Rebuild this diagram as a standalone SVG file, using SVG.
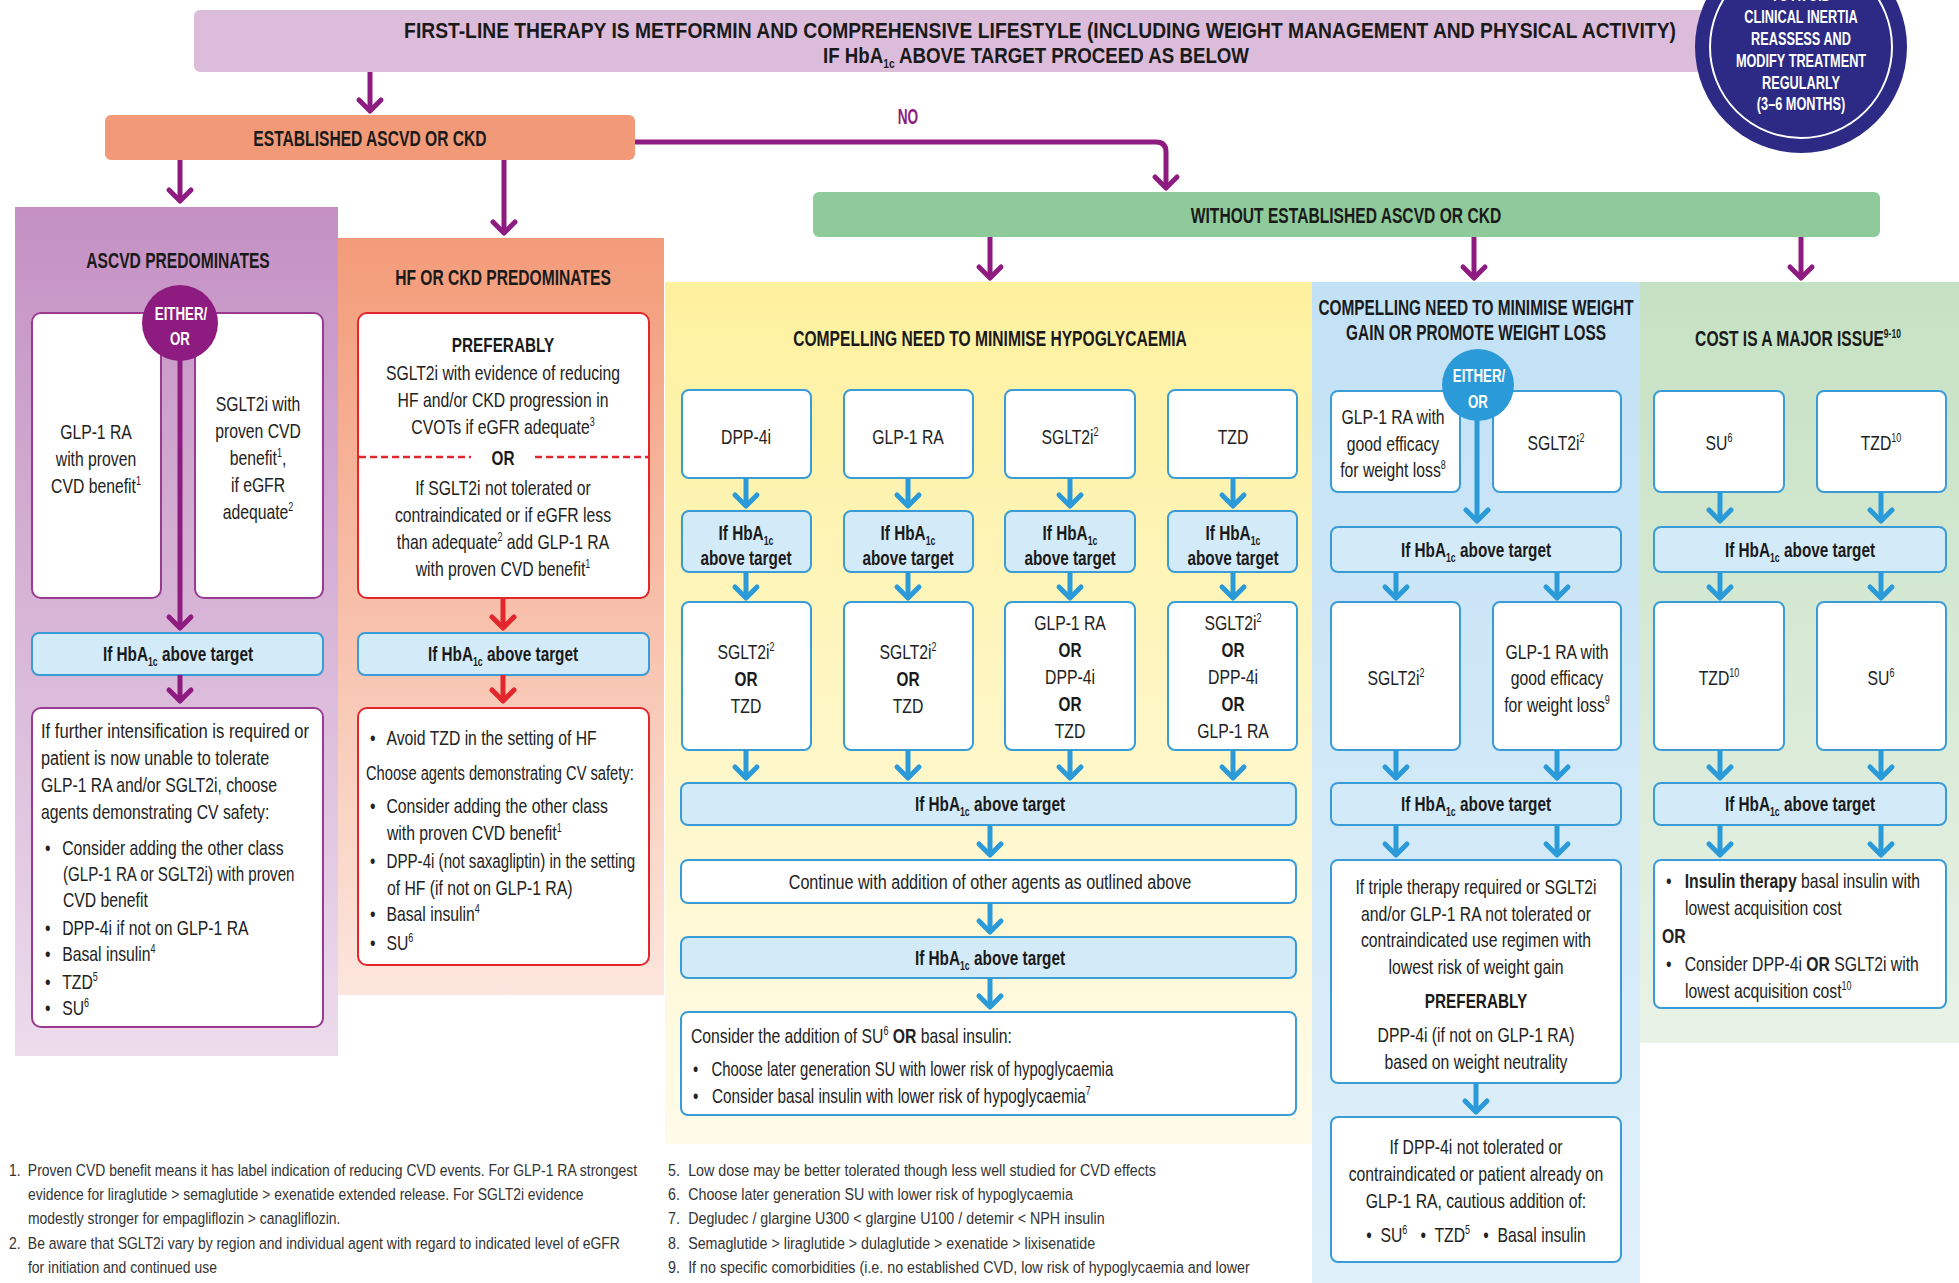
<svg xmlns="http://www.w3.org/2000/svg" width="1959" height="1283" viewBox="0 0 1959 1283">
<defs>
<linearGradient id="gAs" x1="0" y1="0" x2="0" y2="1"><stop offset="0" stop-color="#c490c3"/><stop offset="1" stop-color="#ecdcec"/></linearGradient>
<linearGradient id="gHf" x1="0" y1="0" x2="0" y2="1"><stop offset="0" stop-color="#f39b79"/><stop offset="1" stop-color="#fce6dd"/></linearGradient>
<linearGradient id="gYe" x1="0" y1="0" x2="0" y2="1"><stop offset="0" stop-color="#fdf19e"/><stop offset="1" stop-color="#fffbea"/></linearGradient>
<linearGradient id="gBl" x1="0" y1="0" x2="0" y2="1"><stop offset="0" stop-color="#c2e1f5"/><stop offset="1" stop-color="#e0f0fa"/></linearGradient>
<linearGradient id="gGr" x1="0" y1="0" x2="0" y2="1"><stop offset="0" stop-color="#c5e1c3"/><stop offset="1" stop-color="#e9f2e6"/></linearGradient>
<marker id="ap" markerUnits="userSpaceOnUse" orient="auto" markerWidth="30" markerHeight="30" viewBox="-15 -15 30 30" refX="0" refY="0"><path d="M-11,-11 L0,0 L-11,11" fill="none" stroke="#8e1b80" stroke-width="5" stroke-linejoin="round" stroke-linecap="round"/></marker>
<marker id="ar" markerUnits="userSpaceOnUse" orient="auto" markerWidth="30" markerHeight="30" viewBox="-15 -15 30 30" refX="0" refY="0"><path d="M-11,-11 L0,0 L-11,11" fill="none" stroke="#e2262c" stroke-width="5" stroke-linejoin="round" stroke-linecap="round"/></marker>
<marker id="ab" markerUnits="userSpaceOnUse" orient="auto" markerWidth="30" markerHeight="30" viewBox="-15 -15 30 30" refX="0" refY="0"><path d="M-11,-11 L0,0 L-11,11" fill="none" stroke="#2b9ad8" stroke-width="5" stroke-linejoin="round" stroke-linecap="round"/></marker>
</defs>
<style>
.h{font:bold 22px "Liberation Sans",Arial,sans-serif;text-anchor:middle;fill:#1a1a1a}
.m{font:21px "Liberation Sans",Arial,sans-serif;text-anchor:middle;fill:#222}
.mb{font:bold 21px "Liberation Sans",Arial,sans-serif;text-anchor:middle;fill:#1a1a1a}
.l{font:21px "Liberation Sans",Arial,sans-serif;fill:#222}
.fn{font:17px "Liberation Sans",Arial,sans-serif;fill:#333}
.wt{font:bold 19px "Liberation Sans",Arial,sans-serif;text-anchor:middle;fill:#fff}
.sup{font-size:12px;baseline-shift:8px}
.sub{font-size:12px;baseline-shift:-5px}
.b{font-weight:bold}
.wp{fill:#fff;stroke:#9b3a91;stroke-width:2}
.wr{fill:#fff;stroke:#e2262c;stroke-width:2}
.wb{fill:#fff;stroke:#3a9cd7;stroke-width:2}
.ifb{fill:#d3eaf9;stroke:#3a9cd7;stroke-width:2}
.cp{fill:none;stroke:#8e1b80;stroke-width:5;marker-end:url(#ap)}
.cr{fill:none;stroke:#e2262c;stroke-width:5;marker-end:url(#ar)}
.cb{fill:none;stroke:#2b9ad8;stroke-width:5;marker-end:url(#ab)}
</style>
<rect x="0" y="0" width="1959" height="1283" fill="#fff"/>

<!-- panels -->
<g id="panel-ascvd"><rect x="15" y="207" width="323" height="849" fill="url(#gAs)"/>
<text class="h" transform="translate(178,268) scale(.71,1)">ASCVD PREDOMINATES</text></g>
<g id="panel-hf"><rect x="338" y="238" width="326" height="757" fill="url(#gHf)"/>
<text class="h" transform="translate(503,285) scale(.71,1)">HF OR CKD PREDOMINATES</text></g>
<g id="panel-hypo"><rect x="665" y="282" width="647" height="862" fill="url(#gYe)"/>
<text class="h" transform="translate(990,346) scale(.71,1)">COMPELLING NEED TO MINIMISE HYPOGLYCAEMIA</text></g>
<g id="panel-weight"><rect x="1312" y="282" width="328" height="1001" fill="url(#gBl)"/>
<text class="h" transform="translate(1476,315) scale(.70,1)">COMPELLING NEED TO MINIMISE WEIGHT</text>
<text class="h" transform="translate(1476,340) scale(.70,1)">GAIN OR PROMOTE WEIGHT LOSS</text></g>
<g id="panel-cost"><rect x="1640" y="282" width="319" height="761" fill="url(#gGr)"/>
<text class="h" transform="translate(1798,346) scale(.71,1)">COST IS A MAJOR ISSUE<tspan class="sup">9-10</tspan></text></g>

<!-- top -->
<g id="first-line"><rect x="194" y="10" width="1530" height="62" rx="6" fill="#dcbcdb"/>
<text class="h" font-size="26" transform="translate(1040,38) scale(.876,1)">FIRST-LINE THERAPY IS METFORMIN AND COMPREHENSIVE LIFESTYLE (INCLUDING WEIGHT MANAGEMENT AND PHYSICAL ACTIVITY)</text>
<text class="h" font-size="26" transform="translate(1036,63) scale(.85,1)">IF HbA<tspan class="sub" font-size="13">1c</tspan> ABOVE TARGET PROCEED AS BELOW</text></g>
<g id="inertia"><circle cx="1801" cy="47" r="106" fill="#2c2a84"/><circle cx="1801" cy="47" r="91" fill="none" stroke="#fff" stroke-width="2"/>
<text class="wt" font-size="20" transform="translate(1801,1) scale(.67,1)">TO AVOID</text>
<text class="wt" font-size="20" transform="translate(1801,23) scale(.67,1)">CLINICAL INERTIA</text>
<text class="wt" font-size="20" transform="translate(1801,45) scale(.67,1)">REASSESS AND</text>
<text class="wt" font-size="20" transform="translate(1801,67) scale(.67,1)">MODIFY TREATMENT</text>
<text class="wt" font-size="20" transform="translate(1801,89) scale(.67,1)">REGULARLY</text>
<text class="wt" font-size="20" transform="translate(1801,110) scale(.67,1)">(3–6 MONTHS)</text></g>
<g id="established"><rect x="105" y="115" width="530" height="45" rx="6" fill="#f29a78"/>
<text class="h" font-size="23" transform="translate(370,146) scale(.71,1)">ESTABLISHED ASCVD OR CKD</text></g>
<g id="without"><rect x="813" y="192" width="1067" height="45" rx="6" fill="#8fca9a"/>
<text class="h" font-size="23" transform="translate(1346,223) scale(.71,1)">WITHOUT ESTABLISHED ASCVD OR CKD</text></g>

<!-- ASCVD nodes -->
<g id="ascvd-glp1"><rect class="wp" x="32" y="313" width="129" height="285" rx="9"/>
<text class="m" transform="translate(96,439) scale(.75,1)">GLP-1 RA</text>
<text class="m" transform="translate(96,466) scale(.75,1)">with proven</text>
<text class="m" transform="translate(96,493) scale(.75,1)">CVD benefit<tspan class="sup">1</tspan></text></g>
<g id="ascvd-sglt2"><rect class="wp" x="195" y="313" width="128" height="285" rx="9"/>
<text class="m" transform="translate(258,411) scale(.75,1)">SGLT2i with</text>
<text class="m" transform="translate(258,438) scale(.75,1)">proven CVD</text>
<text class="m" transform="translate(258,465) scale(.75,1)">benefit<tspan class="sup">1</tspan>,</text>
<text class="m" transform="translate(258,492) scale(.75,1)">if eGFR</text>
<text class="m" transform="translate(258,519) scale(.75,1)">adequate<tspan class="sup">2</tspan></text></g>
<g id="ascvd-either"><circle cx="180" cy="323" r="38" fill="#8e1b80"/>
<text class="wt" transform="translate(181,320) scale(.7,1)">EITHER/</text>
<text class="wt" transform="translate(180,345) scale(.7,1)">OR</text></g>
<g id="ascvd-if"><rect class="ifb" x="32" y="633" width="291" height="42" rx="7"/>
<text class="mb" transform="translate(178,661) scale(.73,1)">If HbA<tspan class="sub">1c</tspan> above target</text></g>
<g id="ascvd-next"><rect class="wp" x="32" y="708" width="291" height="319" rx="9"/>
<text class="l" transform="translate(41,738) scale(.79,1)">If further intensification is required or</text>
<text class="l" transform="translate(41,765) scale(.77,1)">patient is now unable to tolerate</text>
<text class="l" transform="translate(41,792) scale(.75,1)">GLP-1 RA and/or SGLT2i, choose</text>
<text class="l" transform="translate(41,819) scale(.75,1)">agents demonstrating CV safety:</text>
<text class="l" transform="translate(45,855) scale(.75,1)">•<tspan x="23">Consider adding the other class</tspan></text>
<text class="l" transform="translate(63,881) scale(.72,1)">(GLP-1 RA or SGLT2i) with proven</text>
<text class="l" transform="translate(63,907) scale(.75,1)">CVD benefit</text>
<text class="l" transform="translate(45,935) scale(.75,1)">•<tspan x="23">DPP-4i if not on GLP-1 RA</tspan></text>
<text class="l" transform="translate(45,961) scale(.75,1)">•<tspan x="23">Basal insulin<tspan class="sup">4</tspan></tspan></text>
<text class="l" transform="translate(45,989) scale(.75,1)">•<tspan x="23">TZD<tspan class="sup">5</tspan></tspan></text>
<text class="l" transform="translate(45,1015) scale(.75,1)">•<tspan x="23">SU<tspan class="sup">6</tspan></tspan></text></g>

<!-- HF nodes -->
<g id="hf-pref"><rect class="wr" x="358" y="313" width="291" height="285" rx="9"/>
<text class="mb" transform="translate(503,352) scale(.73,1)">PREFERABLY</text>
<text class="m" transform="translate(503,380) scale(.75,1)">SGLT2i with evidence of reducing</text>
<text class="m" transform="translate(503,407) scale(.75,1)">HF and/or CKD progression in</text>
<text class="m" transform="translate(503,434) scale(.75,1)">CVOTs if eGFR adequate<tspan class="sup">3</tspan></text>
<path d="M359,457 H471 M535,457 H648" stroke="#e2262c" stroke-width="2.5" stroke-dasharray="7 4" fill="none"/>
<text class="mb" transform="translate(503,465) scale(.73,1)">OR</text>
<text class="m" transform="translate(503,495) scale(.75,1)">If SGLT2i not tolerated or</text>
<text class="m" transform="translate(503,522) scale(.75,1)">contraindicated or if eGFR less</text>
<text class="m" transform="translate(503,549) scale(.75,1)">than adequate<tspan class="sup">2</tspan> add GLP-1 RA</text>
<text class="m" transform="translate(503,576) scale(.75,1)">with proven CVD benefit<tspan class="sup">1</tspan></text></g>
<g id="hf-if"><rect class="ifb" x="358" y="633" width="291" height="42" rx="7"/>
<text class="mb" transform="translate(503,661) scale(.73,1)">If HbA<tspan class="sub">1c</tspan> above target</text></g>
<g id="hf-next"><rect class="wr" x="358" y="708" width="291" height="257" rx="9"/>
<text class="l" transform="translate(370,745) scale(.75,1)">•<tspan x="22">Avoid TZD in the setting of HF</tspan></text>
<text class="l" transform="translate(366,780) scale(.70,1)">Choose agents demonstrating CV safety:</text>
<text class="l" transform="translate(370,813) scale(.75,1)">•<tspan x="22">Consider adding the other class</tspan></text>
<text class="l" transform="translate(387,840) scale(.75,1)">with proven CVD benefit<tspan class="sup">1</tspan></text>
<text class="l" transform="translate(370,868) scale(.72,1)">•<tspan x="23">DPP-4i (not saxagliptin) in the setting</tspan></text>
<text class="l" transform="translate(387,895) scale(.75,1)">of HF (if not on GLP-1 RA)</text>
<text class="l" transform="translate(370,921) scale(.75,1)">•<tspan x="22">Basal insulin<tspan class="sup">4</tspan></tspan></text>
<text class="l" transform="translate(370,950) scale(.75,1)">•<tspan x="22">SU<tspan class="sup">6</tspan></tspan></text></g>

<!-- Hypoglycaemia nodes -->
<g id="hy-dpp4"><rect class="wb" x="682" y="390" width="129" height="88" rx="7"/><text class="m" transform="translate(746,444) scale(.75,1)">DPP-4i</text></g>
<g id="hy-glp1"><rect class="wb" x="844" y="390" width="129" height="88" rx="7"/><text class="m" transform="translate(908,444) scale(.75,1)">GLP-1 RA</text></g>
<g id="hy-sglt2"><rect class="wb" x="1005" y="390" width="130" height="88" rx="7"/><text class="m" transform="translate(1070,444) scale(.75,1)">SGLT2i<tspan class="sup">2</tspan></text></g>
<g id="hy-tzd"><rect class="wb" x="1168" y="390" width="129" height="88" rx="7"/><text class="m" transform="translate(1233,444) scale(.75,1)">TZD</text></g>
<g id="hy-if1"><rect class="ifb" x="682" y="511" width="129" height="61" rx="7"/><text class="mb" transform="translate(746,540) scale(.73,1)">If HbA<tspan class="sub">1c</tspan></text><text class="mb" transform="translate(746,565) scale(.73,1)">above target</text></g>
<g id="hy-if2"><rect class="ifb" x="844" y="511" width="129" height="61" rx="7"/><text class="mb" transform="translate(908,540) scale(.73,1)">If HbA<tspan class="sub">1c</tspan></text><text class="mb" transform="translate(908,565) scale(.73,1)">above target</text></g>
<g id="hy-if3"><rect class="ifb" x="1005" y="511" width="130" height="61" rx="7"/><text class="mb" transform="translate(1070,540) scale(.73,1)">If HbA<tspan class="sub">1c</tspan></text><text class="mb" transform="translate(1070,565) scale(.73,1)">above target</text></g>
<g id="hy-if4"><rect class="ifb" x="1168" y="511" width="129" height="61" rx="7"/><text class="mb" transform="translate(1233,540) scale(.73,1)">If HbA<tspan class="sub">1c</tspan></text><text class="mb" transform="translate(1233,565) scale(.73,1)">above target</text></g>
<g id="hy-r1"><rect class="wb" x="682" y="602" width="129" height="148" rx="7"/>
<text class="m" transform="translate(746,659) scale(.75,1)">SGLT2i<tspan class="sup">2</tspan></text><text class="mb" transform="translate(746,686) scale(.73,1)">OR</text><text class="m" transform="translate(746,713) scale(.75,1)">TZD</text></g>
<g id="hy-r2"><rect class="wb" x="844" y="602" width="129" height="148" rx="7"/>
<text class="m" transform="translate(908,659) scale(.75,1)">SGLT2i<tspan class="sup">2</tspan></text><text class="mb" transform="translate(908,686) scale(.73,1)">OR</text><text class="m" transform="translate(908,713) scale(.75,1)">TZD</text></g>
<g id="hy-r3"><rect class="wb" x="1005" y="602" width="130" height="148" rx="7"/>
<text class="m" transform="translate(1070,630) scale(.75,1)">GLP-1 RA</text><text class="mb" transform="translate(1070,657) scale(.73,1)">OR</text><text class="m" transform="translate(1070,684) scale(.75,1)">DPP-4i</text><text class="mb" transform="translate(1070,711) scale(.73,1)">OR</text><text class="m" transform="translate(1070,738) scale(.75,1)">TZD</text></g>
<g id="hy-r4"><rect class="wb" x="1168" y="602" width="129" height="148" rx="7"/>
<text class="m" transform="translate(1233,630) scale(.75,1)">SGLT2i<tspan class="sup">2</tspan></text><text class="mb" transform="translate(1233,657) scale(.73,1)">OR</text><text class="m" transform="translate(1233,684) scale(.75,1)">DPP-4i</text><text class="mb" transform="translate(1233,711) scale(.73,1)">OR</text><text class="m" transform="translate(1233,738) scale(.75,1)">GLP-1 RA</text></g>
<g id="hy-if5"><rect class="ifb" x="681" y="783" width="615" height="42" rx="7"/><text class="mb" transform="translate(990,811) scale(.73,1)">If HbA<tspan class="sub">1c</tspan> above target</text></g>
<g id="hy-continue"><rect class="wb" x="681" y="860" width="615" height="43" rx="7"/><text class="m" transform="translate(990,889) scale(.77,1)">Continue with addition of other agents as outlined above</text></g>
<g id="hy-if6"><rect class="ifb" x="681" y="937" width="615" height="41" rx="7"/><text class="mb" transform="translate(990,965) scale(.73,1)">If HbA<tspan class="sub">1c</tspan> above target</text></g>
<g id="hy-final"><rect class="wb" x="681" y="1012" width="615" height="103" rx="7"/>
<text class="l" transform="translate(691,1043) scale(.75,1)">Consider the addition of SU<tspan class="sup">6</tspan> <tspan class="b">OR</tspan> basal insulin:</text>
<text class="l" transform="translate(693,1076) scale(.71,1)">•<tspan x="26">Choose later generation SU with lower risk of hypoglycaemia</tspan></text>
<text class="l" transform="translate(693,1103) scale(.73,1)">•<tspan x="26">Consider basal insulin with lower risk of hypoglycaemia<tspan class="sup">7</tspan></tspan></text></g>

<!-- Weight nodes -->
<g id="wt-glp1"><rect class="wb" x="1331" y="391" width="129" height="101" rx="7"/>
<text class="m" transform="translate(1393,424) scale(.75,1)">GLP-1 RA with</text>
<text class="m" transform="translate(1393,451) scale(.75,1)">good efficacy</text>
<text class="m" transform="translate(1393,477) scale(.75,1)">for weight loss<tspan class="sup">8</tspan></text></g>
<g id="wt-sglt2"><rect class="wb" x="1493" y="391" width="128" height="101" rx="7"/>
<text class="m" transform="translate(1556,450) scale(.75,1)">SGLT2i<tspan class="sup">2</tspan></text></g>
<g id="wt-either"><circle cx="1478" cy="385" r="36" fill="#2b9ad8"/>
<text class="wt" transform="translate(1479,382) scale(.7,1)">EITHER/</text>
<text class="wt" transform="translate(1478,408) scale(.7,1)">OR</text></g>
<g id="wt-if1"><rect class="ifb" x="1331" y="527" width="290" height="45" rx="7"/><text class="mb" transform="translate(1476,557) scale(.73,1)">If HbA<tspan class="sub">1c</tspan> above target</text></g>
<g id="wt-r1"><rect class="wb" x="1331" y="602" width="129" height="148" rx="7"/><text class="m" transform="translate(1396,685) scale(.75,1)">SGLT2i<tspan class="sup">2</tspan></text></g>
<g id="wt-r2"><rect class="wb" x="1493" y="602" width="128" height="148" rx="7"/>
<text class="m" transform="translate(1557,659) scale(.75,1)">GLP-1 RA with</text>
<text class="m" transform="translate(1557,685) scale(.75,1)">good efficacy</text>
<text class="m" transform="translate(1557,712) scale(.75,1)">for weight loss<tspan class="sup">9</tspan></text></g>
<g id="wt-if2"><rect class="ifb" x="1331" y="783" width="290" height="42" rx="7"/><text class="mb" transform="translate(1476,811) scale(.73,1)">If HbA<tspan class="sub">1c</tspan> above target</text></g>
<g id="wt-triple"><rect class="wb" x="1331" y="860" width="290" height="223" rx="7"/>
<text class="m" transform="translate(1476,894) scale(.75,1)">If triple therapy required or SGLT2i</text>
<text class="m" transform="translate(1476,921) scale(.75,1)">and/or GLP-1 RA not tolerated or</text>
<text class="m" transform="translate(1476,947) scale(.75,1)">contraindicated use regimen with</text>
<text class="m" transform="translate(1476,974) scale(.75,1)">lowest risk of weight gain</text>
<text class="mb" transform="translate(1476,1008) scale(.73,1)">PREFERABLY</text>
<text class="m" transform="translate(1476,1042) scale(.75,1)">DPP-4i (if not on GLP-1 RA)</text>
<text class="m" transform="translate(1476,1069) scale(.75,1)">based on weight neutrality</text></g>
<g id="wt-dpp4"><rect class="wb" x="1331" y="1117" width="290" height="145" rx="7"/>
<text class="m" transform="translate(1476,1154) scale(.75,1)">If DPP-4i not tolerated or</text>
<text class="m" transform="translate(1476,1181) scale(.75,1)">contraindicated or patient already on</text>
<text class="m" transform="translate(1476,1208) scale(.75,1)">GLP-1 RA, cautious addition of:</text>
<text class="m" transform="translate(1476,1242) scale(.75,1)">•&#160; SU<tspan class="sup">6</tspan>&#160;&#160; •&#160; TZD<tspan class="sup">5</tspan>&#160;&#160; •&#160; Basal insulin</text></g>

<!-- Cost nodes -->
<g id="co-su"><rect class="wb" x="1654" y="391" width="130" height="101" rx="7"/><text class="m" transform="translate(1719,450) scale(.75,1)">SU<tspan class="sup">6</tspan></text></g>
<g id="co-tzd"><rect class="wb" x="1817" y="391" width="129" height="101" rx="7"/><text class="m" transform="translate(1881,450) scale(.75,1)">TZD<tspan class="sup">10</tspan></text></g>
<g id="co-if1"><rect class="ifb" x="1654" y="527" width="292" height="45" rx="7"/><text class="mb" transform="translate(1800,557) scale(.73,1)">If HbA<tspan class="sub">1c</tspan> above target</text></g>
<g id="co-r1"><rect class="wb" x="1654" y="602" width="130" height="148" rx="7"/><text class="m" transform="translate(1719,685) scale(.75,1)">TZD<tspan class="sup">10</tspan></text></g>
<g id="co-r2"><rect class="wb" x="1817" y="602" width="129" height="148" rx="7"/><text class="m" transform="translate(1881,685) scale(.75,1)">SU<tspan class="sup">6</tspan></text></g>
<g id="co-if2"><rect class="ifb" x="1654" y="783" width="292" height="42" rx="7"/><text class="mb" transform="translate(1800,811) scale(.73,1)">If HbA<tspan class="sub">1c</tspan> above target</text></g>
<g id="co-final"><rect class="wb" x="1654" y="860" width="292" height="148" rx="7"/>
<text class="l" transform="translate(1666,888) scale(.75,1)">•<tspan x="25"><tspan class="b">Insulin therapy</tspan> basal insulin with</tspan></text>
<text class="l" transform="translate(1685,915) scale(.75,1)">lowest acquisition cost</text>
<text class="l b" transform="translate(1662,943) scale(.75,1)">OR</text>
<text class="l" transform="translate(1666,971) scale(.75,1)">•<tspan x="25">Consider DPP-4i <tspan class="b">OR</tspan> SGLT2i with</tspan></text>
<text class="l" transform="translate(1685,998) scale(.75,1)">lowest acquisition cost<tspan class="sup">10</tspan></text></g>

<!-- connectors -->
<g id="connectors">
<path class="cp" d="M370,72 V111"/>
<path class="cp" d="M180,160 V201"/>
<path class="cp" d="M504,160 V233"/>
<path class="cp" d="M635,142 H1156 Q1166,142 1166,152 V188"/>
<path class="cp" d="M990,237 V278"/>
<path class="cp" d="M1474,237 V278"/>
<path class="cp" d="M1801,237 V278"/>
<path class="cp" d="M180,355 V628" stroke-width="7"/>
<path class="cp" d="M180,675 V701"/>
<path class="cr" d="M503,598 V628"/>
<path class="cr" d="M503,675 V701"/>
<path class="cb" d="M746,478 V506"/><path class="cb" d="M908,478 V506"/><path class="cb" d="M1070,478 V506"/><path class="cb" d="M1233,478 V506"/>
<path class="cb" d="M746,572 V598"/><path class="cb" d="M908,572 V598"/><path class="cb" d="M1070,572 V598"/><path class="cb" d="M1233,572 V598"/>
<path class="cb" d="M746,750 V778"/><path class="cb" d="M908,750 V778"/><path class="cb" d="M1070,750 V778"/><path class="cb" d="M1233,750 V778"/>
<path class="cb" d="M990,825 V855"/>
<path class="cb" d="M990,903 V932"/>
<path class="cb" d="M990,978 V1007"/>
<path class="cb" d="M1477,418 V521" stroke-width="7"/>
<path class="cb" d="M1396,572 V598"/><path class="cb" d="M1557,572 V598"/>
<path class="cb" d="M1396,750 V778"/><path class="cb" d="M1557,750 V778"/>
<path class="cb" d="M1396,825 V855"/><path class="cb" d="M1557,825 V855"/>
<path class="cb" d="M1476,1083 V1112"/>
<path class="cb" d="M1720,492 V521"/><path class="cb" d="M1881,492 V521"/>
<path class="cb" d="M1720,572 V598"/><path class="cb" d="M1881,572 V598"/>
<path class="cb" d="M1720,750 V778"/><path class="cb" d="M1881,750 V778"/>
<path class="cb" d="M1720,825 V855"/><path class="cb" d="M1881,825 V855"/>
<text class="h" font-size="32" style="fill:#8e1b80" transform="translate(908,124) scale(.62,1)">NO</text>
</g>

<!-- footnotes -->
<g id="footnotes">
<text class="fn" transform="translate(9,1176) scale(.82,1)">1.<tspan x="23">Proven CVD benefit means it has label indication of reducing CVD events. For GLP-1 RA strongest</tspan></text>
<text class="fn" transform="translate(28,1200) scale(.82,1)">evidence for liraglutide &gt; semaglutide &gt; exenatide extended release. For SGLT2i evidence</text>
<text class="fn" transform="translate(28,1224) scale(.82,1)">modestly stronger for empagliflozin &gt; canagliflozin.</text>
<text class="fn" transform="translate(9,1249) scale(.82,1)">2.<tspan x="23">Be aware that SGLT2i vary by region and individual agent with regard to indicated level of eGFR</tspan></text>
<text class="fn" transform="translate(28,1273) scale(.82,1)">for initiation and continued use</text>
<text class="fn" transform="translate(668,1176) scale(.84,1)">5.<tspan x="24">Low dose may be better tolerated though less well studied for CVD effects</tspan></text>
<text class="fn" transform="translate(668,1200) scale(.84,1)">6.<tspan x="24">Choose later generation SU with lower risk of hypoglycaemia</tspan></text>
<text class="fn" transform="translate(668,1224) scale(.84,1)">7.<tspan x="24">Degludec / glargine U300 &lt; glargine U100 / detemir &lt; NPH insulin</tspan></text>
<text class="fn" transform="translate(668,1249) scale(.84,1)">8.<tspan x="24">Semaglutide &gt; liraglutide &gt; dulaglutide &gt; exenatide &gt; lixisenatide</tspan></text>
<text class="fn" transform="translate(668,1273) scale(.84,1)">9.<tspan x="24">If no specific comorbidities (i.e. no established CVD, low risk of hypoglycaemia and lower</tspan></text>
</g>
</svg>
